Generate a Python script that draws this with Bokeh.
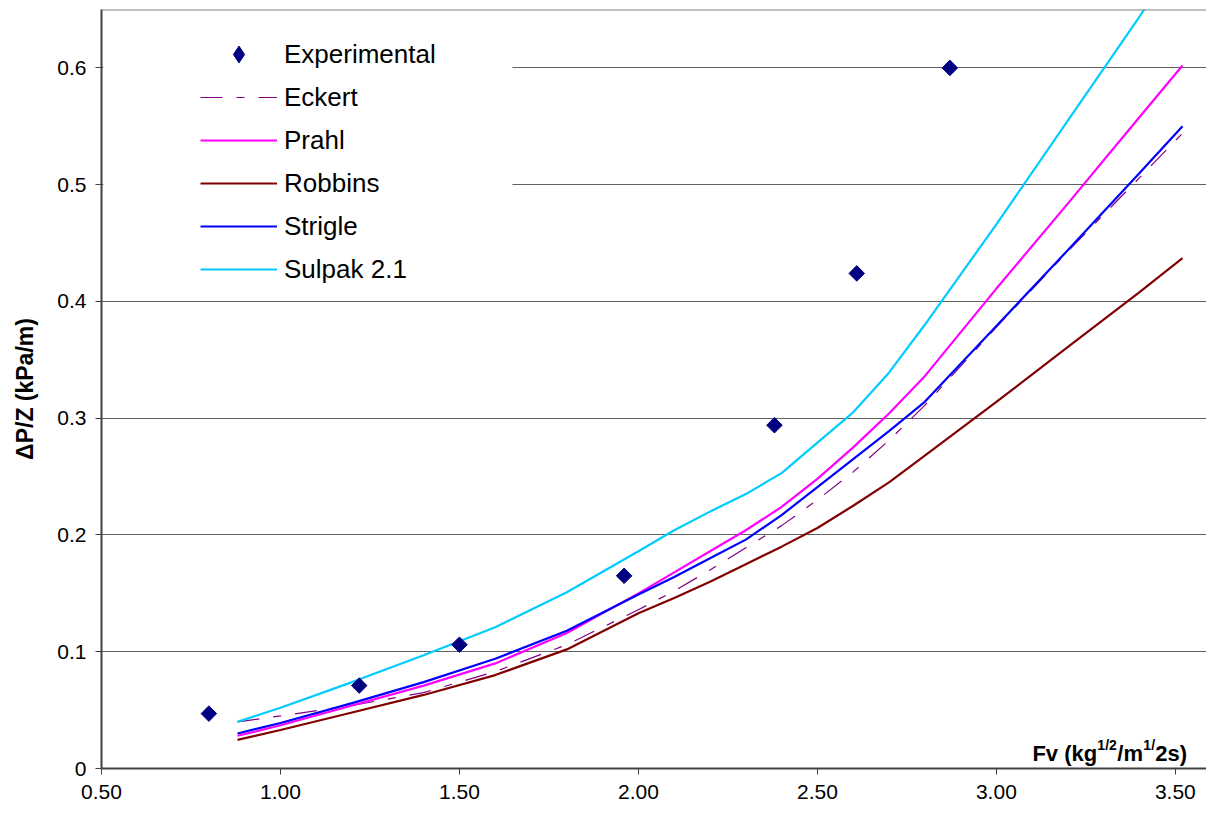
import numpy as np
from bokeh.plotting import figure
from bokeh.models import (Range1d, FixedTicker, NumeralTickFormatter, Legend, LegendItem,
                          BoxAnnotation, Label, Span)
from bokeh.embed import file_html
from bokeh.resources import INLINE

# ---- data ----
exp_fv = [0.80, 1.22, 1.50, 1.96, 2.38, 2.61, 2.87]
exp_dp = [0.047, 0.071, 0.106, 0.165, 0.294, 0.424, 0.600]

fv = [0.88, 1.0, 1.2, 1.4, 1.6, 1.8, 2.0, 2.1, 2.2, 2.3, 2.4, 2.5, 2.6, 2.7, 2.8, 3.0, 3.2, 3.4, 3.52]
eckert  = [0.040, 0.045, 0.054, 0.065, 0.083, 0.106, 0.136, 0.152, 0.170, 0.189, 0.208, 0.230, 0.254, 0.281, 0.311, 0.378, 0.443, 0.506, 0.544]
prahl   = [0.028, 0.037, 0.054, 0.071, 0.090, 0.116, 0.150, 0.168, 0.186, 0.204, 0.224, 0.248, 0.275, 0.304, 0.336, 0.411, 0.484, 0.558, 0.602]
robbins = [0.0245, 0.033, 0.048, 0.063, 0.080, 0.102, 0.133, 0.146, 0.160, 0.175, 0.190, 0.206, 0.225, 0.245, 0.268, 0.314, 0.361, 0.408, 0.437]
strigle = [0.030, 0.039, 0.056, 0.074, 0.094, 0.118, 0.149, 0.164, 0.180, 0.196, 0.217, 0.241, 0.265, 0.289, 0.314, 0.379, 0.444, 0.510, 0.550]
sulpak  = [0.040, 0.052, 0.074, 0.097, 0.121, 0.151, 0.186, 0.204, 0.220, 0.235, 0.253, 0.279, 0.305, 0.339, 0.380, 0.466, 0.555, 0.644, 0.700]

x_ticks = [0.5, 1.0, 1.5, 2.0, 2.5, 3.0, 3.5]
y_ticks = [0, 0.1, 0.2, 0.3, 0.4, 0.5, 0.6]

FONT = "Liberation Sans"

p = figure(width=1206, height=813, output_backend="svg", toolbar_location=None,
           x_range=Range1d(0.5, 3.587), y_range=Range1d(0, 0.65),
           min_border_left=101, min_border_right=0, min_border_top=9, min_border_bottom=45)
p.outline_line_color = None
p.background_fill_color = "white"
p.border_fill_color = "white"

# axes
p.xaxis.ticker = FixedTicker(ticks=x_ticks)
p.yaxis.ticker = FixedTicker(ticks=y_ticks)
p.xaxis.formatter = NumeralTickFormatter(format="0.00")
p.yaxis.formatter = NumeralTickFormatter(format="0.[0]")
for ax in (p.xaxis[0], p.yaxis[0]):
    ax.axis_line_color = "#404040"
    ax.axis_line_width = 2
    ax.major_tick_line_color = "#404040"
    ax.major_tick_line_width = 1
    ax.major_tick_in = 0
    ax.major_tick_out = 6
    ax.minor_tick_line_color = None
    ax.major_label_text_font = FONT
    ax.major_label_text_font_size = "21px"
    ax.major_label_text_color = "black"
p.xaxis.major_label_standoff = 10
p.yaxis.major_label_standoff = 9
p.yaxis.axis_label = "ΔP/Z (kPa/m)"
p.yaxis.axis_label_text_font = FONT
p.yaxis.axis_label_text_font_style = "bold"
p.yaxis.axis_label_text_font_size = "23px"
p.yaxis.axis_label_text_color = "black"
p.yaxis.axis_label_standoff = 16

p.xgrid.grid_line_color = None
p.ygrid.grid_line_color = "#606060"
p.ygrid.grid_line_width = 1

p.add_layout(Span(location=0.65, dimension="width", line_color="#808080", line_width=2))

# lines
r_eck = p.line(fv, eckert, line_color="#800080", line_width=1.2, line_dash="22 14 8 14")
r_pra = p.line(fv, prahl, line_color="#FF00FF", line_width=2.2)
r_rob = p.line(fv, robbins, line_color="#800000", line_width=2.2)
r_str = p.line(fv, strigle, line_color="#0000FF", line_width=2.2)
r_sul = p.line(fv, sulpak, line_color="#00CCFF", line_width=2.2)
r_exp = p.scatter(exp_fv, exp_dp, marker="square", angle=np.pi / 4, size=11,
                  fill_color="#000080", line_color="#000080")
# same points as a diamond marker, used only for the legend key
r_exp_key = p.scatter(exp_fv, exp_dp, marker="diamond", size=15,
                      fill_color="#000080", line_color="#000080", visible=False)

# white box hiding gridlines behind legend
p.add_layout(BoxAnnotation(left=0.505, right=1.648, bottom=0.415, top=0.648,
                           fill_color="white", fill_alpha=1, line_color=None))

legend = Legend(items=[
    LegendItem(label="Experimental", renderers=[r_exp_key]),
    LegendItem(label="Eckert", renderers=[r_eck]),
    LegendItem(label="Prahl", renderers=[r_pra]),
    LegendItem(label="Robbins", renderers=[r_rob]),
    LegendItem(label="Strigle", renderers=[r_str]),
    LegendItem(label="Sulpak 2.1", renderers=[r_sul]),
], location=(99, 478))
legend.border_line_color = None
legend.background_fill_color = "white"
legend.background_fill_alpha = 1
legend.inactive_fill_alpha = 0
legend.label_text_font = FONT
legend.label_text_font_size = "26px"
legend.label_text_color = "black"
legend.glyph_width = 77
legend.glyph_height = 42
legend.label_height = 42
legend.spacing = 1
legend.label_standoff = 7
legend.padding = 8
legend.margin = 0
p.add_layout(legend)

# x-axis title with superscripts
base_y = 0.0128
sup_y = 0.0200
parts = [
    (3.1006, base_y, "Fv (kg", "22px"),
    (3.2821, sup_y, "1/2", "14px"),
    (3.3380, base_y, "/m", "22px"),
    (3.4106, sup_y, "1/", "14px"),
    (3.4441, base_y, "2s)", "22px"),
]
for x, y, t, fs in parts:
    p.add_layout(Label(x=x, y=y, text=t, text_font=FONT, text_font_style="bold",
                       text_font_size=fs, text_baseline="alphabetic", text_color="black"))

open("out.html", "w").write(file_html(p, INLINE))
